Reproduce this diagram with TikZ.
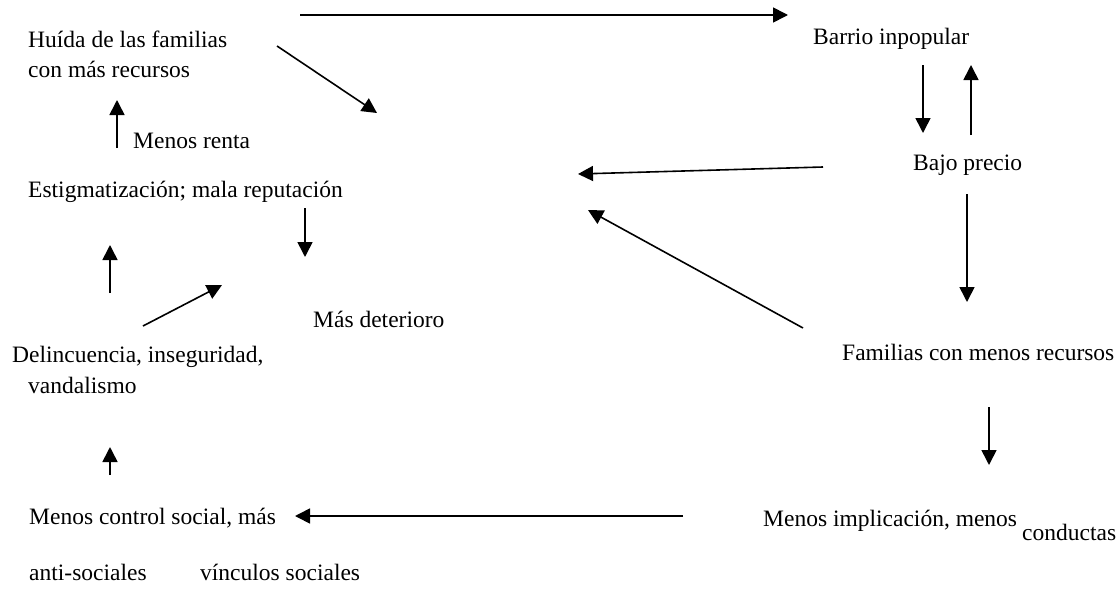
\documentclass[tikz,border=0pt]{standalone}
\usepackage{fontspec}
\setmainfont{Liberation Serif}
\usetikzlibrary{arrows.meta}

\begin{document}
\begin{tikzpicture}[x=1pt, y=-1pt,
    font=\fontsize{23.5}{28}\selectfont,
    texto/.style={anchor=base west, inner sep=0pt},
    flecha/.style={-{Triangle[length=15pt, width=15pt]}, line width=1.6pt}]
  \useasboundingbox (0,0) rectangle (1117,605);

  % columna izquierda
  \node[texto] (huida) at (28,47) {Huída de las familias};
  \node[texto] (huidab) at (28,77) {con más recursos};
  \node[texto] (renta) at (133,148) {Menos renta};
  \node[texto] (estigma) at (28,197) {Estigmatización; mala reputación};
  \node[texto] (deterioro) at (313,327) {Más deterioro};
  \node[texto] (delinc) at (12,362) {Delincuencia, inseguridad,};
  \node[texto] (vandal) at (28,393) {vandalismo};
  \node[texto] (control) at (29,524) {Menos control social, más};
  \node[texto] (anti) at (29,580) {anti-sociales};
  \node[texto] (vinculos) at (200,580) {vínculos sociales};

  % columna derecha
  \node[texto] (barrio) at (813,45) {Barrio inpopular};
  \node[texto] (precio) at (913,170) {Bajo precio};
  \node[texto] (familias) at (842,360) {Familias con menos recursos};
  \node[texto] (implic) at (763,526) {Menos implicación, menos};
  \node[texto] (conduc) at (1022,540) {conductas};

  % extremos de las flechas
  \coordinate (sup1) at (300,15);   \coordinate (sup2) at (788,15);
  \coordinate (diag1) at (277,46);  \coordinate (diag2) at (377,113);
  \coordinate (ren1) at (117,148);  \coordinate (ren2) at (117,100);
  \coordinate (est1) at (305,208);  \coordinate (est2) at (305,257);
  \coordinate (del1) at (110,293);  \coordinate (del2) at (110,245);
  \coordinate (det1) at (143,326);  \coordinate (det2) at (222,285);
  \coordinate (con1) at (110,475);  \coordinate (con2) at (110,447);
  \coordinate (inf1) at (683,516);  \coordinate (inf2) at (295,516);
  \coordinate (pre1) at (823,167);  \coordinate (pre2) at (578,174);
  \coordinate (fam1) at (803,328);  \coordinate (fam2) at (588,210);
  \coordinate (bar1) at (923,65);   \coordinate (bar2) at (923,133);
  \coordinate (baj1) at (971,135);  \coordinate (baj2) at (971,65);
  \coordinate (baj3) at (967,194); \coordinate (fam3) at (967,302);
  \coordinate (fam4) at (989,407); \coordinate (imp1) at (989,465);

  \draw[flecha] (sup1) -- (sup2);
  \draw[flecha] (diag1) -- (diag2);
  \draw[flecha] (ren1) -- (ren2);
  \draw[flecha] (est1) -- (est2);
  \draw[flecha] (del1) -- (del2);
  \draw[flecha] (det1) -- (det2);
  \draw[flecha] (con1) -- (con2);
  \draw[flecha] (inf1) -- (inf2);
  \draw[flecha] (pre1) -- (pre2);
  \draw[flecha] (fam1) -- (fam2);
  \draw[flecha] (bar1) -- (bar2);
  \draw[flecha] (baj1) -- (baj2);
  \draw[flecha] (baj3) -- (fam3);
  \draw[flecha] (fam4) -- (imp1);
\end{tikzpicture}
\end{document}
